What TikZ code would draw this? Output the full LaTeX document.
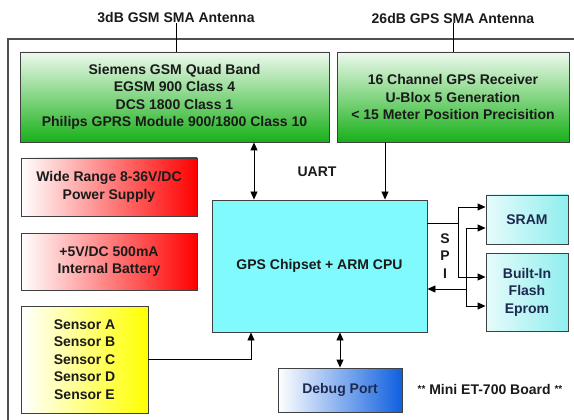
\documentclass[tikz,border=0pt]{standalone}
\usepackage{fontspec}
\setmainfont{Liberation Sans}
\usetikzlibrary{arrows.meta}
\definecolor{txt}{HTML}{1A1A1A}
\definecolor{navy}{HTML}{1C2A50}
\definecolor{boxline}{HTML}{404040}
\definecolor{framec}{HTML}{505050}
\definecolor{grlight}{HTML}{EEFAEE}
\definecolor{grdark}{HTML}{18B018}
\definecolor{redc}{HTML}{FF0000}
\definecolor{yelc}{HTML}{FFFF00}
\definecolor{cpuc}{HTML}{80FAFC}
\definecolor{cyl}{HTML}{E6FBFB}
\definecolor{cyr}{HTML}{90EEEE}
\definecolor{bluec}{HTML}{1060E0}
\tikzset{
  box/.style={draw=boxline, line width=0.9pt, inner sep=0pt, align=center, text=txt},
  greenbox/.style={box, top color=grlight, bottom color=grdark},
  redbox/.style={box, left color=white, right color=redc},
  yelbox/.style={box, left color=white, right color=yelc},
  cpubox/.style={box, fill=cpuc},
  membox/.style={box, left color=cyl, right color=cyr, text=navy},
  dbgbox/.style={box, left color=white, right color=bluec, text=navy},
  lbl/.style={inner sep=0pt, text=txt, align=center},
  wire/.style={draw=black, line width=0.9pt},
  arr/.style={wire, -{Triangle[length=8pt,width=7pt]}},
  dbl/.style={wire, {Triangle[length=8pt,width=7pt]}-{Triangle[length=8pt,width=7pt]}},
}
\newcommand{\smallstars}{{\fontsize{10}{10}\selectfont\raisebox{2pt}{**}}}
\begin{document}
\begin{tikzpicture}[x=1pt,y=-1pt, font=\fontsize{14}{17.5}\selectfont\bfseries]
\useasboundingbox (0,0) rectangle (574,420);
\fill[white] (0,0) rectangle (574,420);
% board frame
\draw[framec, line width=1.2pt] (8,420) -- (8,39) -- (574,39);

% antenna labels
\node[lbl] (antgsm) at (176,18) {3dB GSM SMA Antenna};
\node[lbl] (antgps) at (453,18) {26dB GPS SMA Antenna};

% boxes
\node[greenbox, minimum width=309pt, minimum height=90pt] (gsm) at (174.5,97)
  {Siemens GSM Quad Band\\EGSM 900 Class 4\\DCS 1800 Class 1\\Philips GPRS Module 900/1800 Class 10};
\node[greenbox, minimum width=232pt, minimum height=90pt] (gps) at (453,97)
  {16 Channel GPS Receiver\\U-Blox 5 Generation\\< 15 Meter Position Precisition};
\node[redbox, minimum width=176pt, minimum height=58pt] (pwr) at (109,187)
  {Wide Range 8-36V/DC\\Power Supply};
\node[redbox, minimum width=176pt, minimum height=57pt] (bat) at (109,261.5)
  {+5V/DC 500mA\\Internal Battery};
\node[yelbox, minimum width=127pt, minimum height=107pt] (sens) at (84.5,359.5)
  {Sensor A\\Sensor B\\Sensor C\\Sensor D\\Sensor E};
\node[cpubox, minimum width=215pt, minimum height=132pt] (cpu) at (319.5,266)
  {GPS Chipset + ARM CPU};
\node[membox, minimum width=82pt, minimum height=49pt] (sram) at (527,219.5) {SRAM};
\node[membox, minimum width=82pt, minimum height=78pt] (flash) at (527,292)
  {Built-In\\Flash\\Eprom};
\node[dbgbox, minimum width=124pt, minimum height=44pt] (dbg) at (340,390) {Debug Port};

% labels
\node[lbl] (uart) at (317,172) {UART};
\node[lbl] (spi) at (445,256) {S\\P\\I};
\node[lbl] (board) at (490,389) {\smallstars\ Mini ET-700 Board \smallstars};

% antenna lines
\draw[wire] (antgsm.south) -- (antgsm.south |- gsm.north);
\draw[wire] (antgps.south) -- (antgps.south |- gps.north);

% helper coordinates
\coordinate (ux) at (254,0);
\coordinate (gx) at (385,0);
\coordinate (sx) at (251,0);
\coordinate (b1t) at (458,207);
\coordinate (b1m) at (458,223);
\coordinate (b1b) at (458,277);
\coordinate (b2t) at (466,228);
\coordinate (b2m) at (466,289);
\coordinate (b2b) at (466,306);

% UART
\draw[dbl] (gsm.south -| ux) -- (cpu.north -| ux);
% GPS -> CPU
\draw[arr] (gps.south -| gx) -- (cpu.north -| gx);
% sensors -> CPU
\draw[arr] (sens.east) -| (cpu.south -| sx);
% debug
\draw[dbl] (cpu.south -| dbg.north) -- (dbg.north);

% SPI bus 1
\draw[wire] (cpu.east |- b1m) -- (b1m);
\draw[wire] (b1t) -- (b1b);
\draw[arr] (b1t) -- (sram.west |- b1t);
\draw[arr] (b1b) -- (flash.west |- b1b);
% SPI bus 2
\draw[wire] (b2t) -- (b2b);
\draw[arr] (b2t) -- (sram.west |- b2t);
\draw[arr] (b2b) -- (flash.west |- b2b);
\draw[arr] (b2m) -- (cpu.east |- b2m);
\end{tikzpicture}
\end{document}
